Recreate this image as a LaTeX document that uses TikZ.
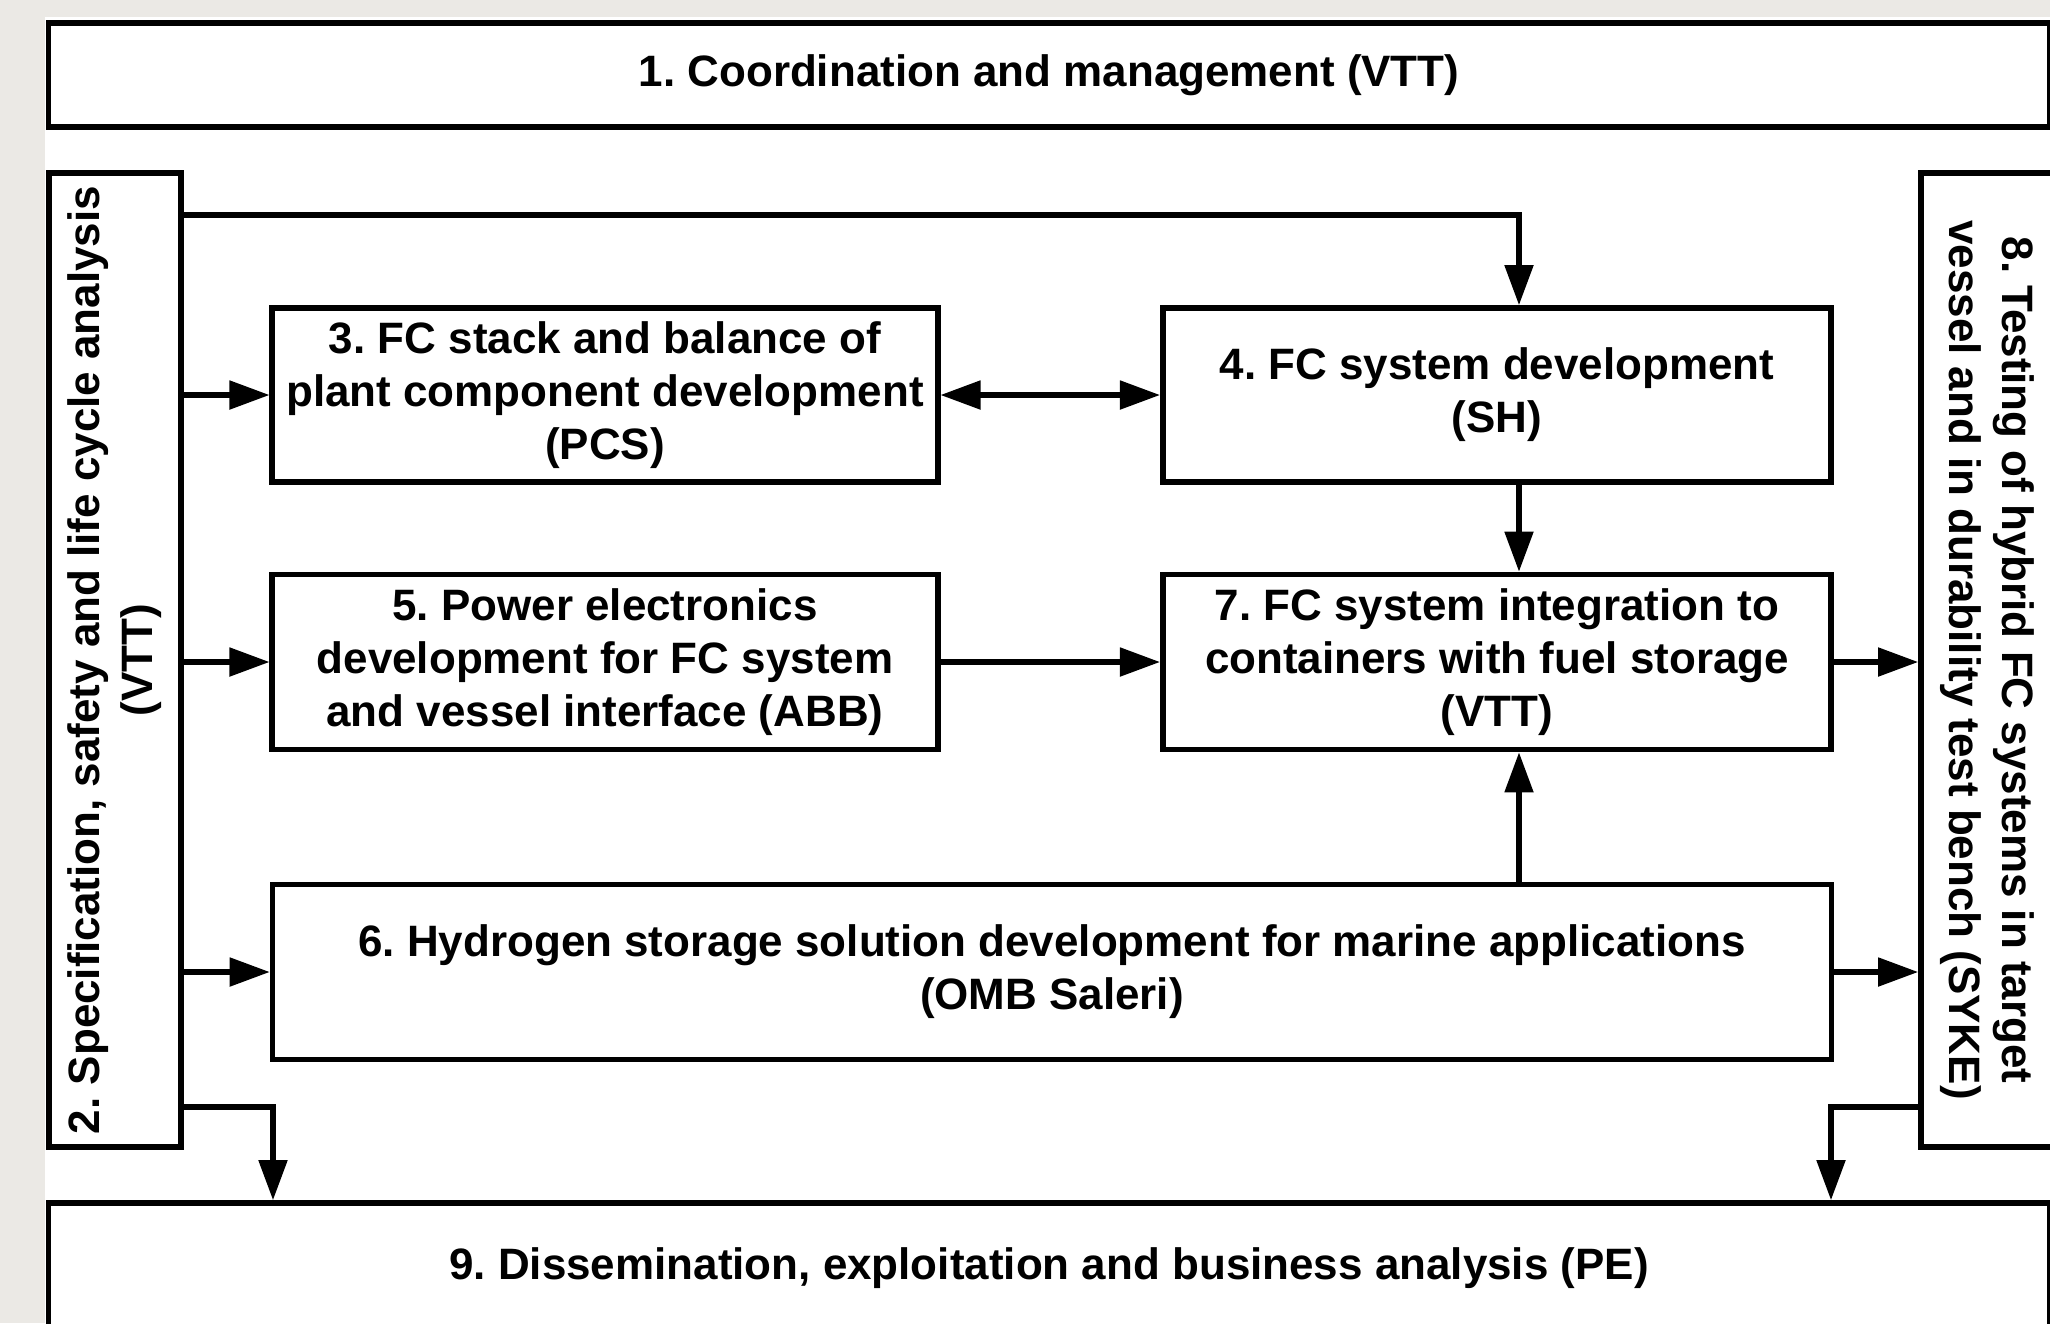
\documentclass[tikz,border=0pt]{standalone}
\usepackage{fontspec}
\setmainfont{Liberation Sans}
\usepackage{graphicx}
\usetikzlibrary{positioning,arrows.meta}
\definecolor{pagegray}{RGB}{235,233,229}
\frenchspacing
\newcommand*{\wpfont}{\fontsize{12.5}{15.1}\selectfont\bfseries}
\newcommand*{\upright}[1]{\rotatebox{90}{\begin{tabular}{@{}c@{}}#1\end{tabular}}}
\newcommand*{\downright}[1]{\rotatebox{-90}{\begin{tabular}{@{}c@{}}#1\end{tabular}}}

\begin{document}
\begin{tikzpicture}[x=0.01cm,y=-0.01cm,
  >={Triangle[length=0.4cm,width=0.28cm]},
  wp/.style={draw,line width=1.6pt,fill=white,font=\wpfont,
    align=center,inner sep=0.05cm},
  arr/.style={line width=1.45pt,->}]
% Page with grey margin on the left and at the top
\useasboundingbox (0,0) rectangle (2050,1323);
\fill[pagegray] (0,0) rectangle (2050,1323);
\fill[white] (45,17) rectangle (2050,1323);
\clip (0,0) rectangle (2050,1323);
% Work packages spanning the full width
\node[wp,minimum width=20cm,minimum height=1.04cm] (coord) at (1049,75)
  {1. Coordination and management (VTT)};
\node[wp,minimum width=20cm,minimum height=1.3cm] (dissem) at (1049,1268)
  {9. Dissemination, exploitation and business analysis (PE)};
% Side work packages with upright text
\node[wp,minimum width=1.32cm,minimum height=9.74cm] (spec) at (115,660)
  {\upright{2. Specification, safety and life cycle analysis\\(VTT)}};
\node[wp,minimum width=1.32cm,minimum height=9.74cm] (test) at (1987,660)
  {\downright{8. Testing of hybrid FC systems in target\\
    vessel and in durability test bench (SYKE)}};
% Inner work packages
\node[wp,minimum width=6.65cm,minimum height=1.74cm] (pcs) at (605,395)
  {3. FC stack and balance of\\plant component development\\(PCS)};
\node[wp,minimum width=6.68cm,minimum height=1.74cm] (sysdev) at (1497,395)
  {4. FC system development\\(SH)};
\node[wp,minimum width=6.65cm,minimum height=1.75cm] (power) at (605,662)
  {5. Power electronics\\development for FC system\\and vessel interface (ABB)};
\node[wp,minimum width=6.68cm,minimum height=1.75cm] (integ) at (1497,662)
  {7. FC system integration to\\containers with fuel storage\\(VTT)};
\node[wp,minimum width=15.58cm,minimum height=1.75cm] (storage) at (1052,972)
  {6. Hydrogen storage solution development for marine applications\\
    (OMB Saleri)};
% Bends of the connectors
\coordinate (trunk) at (1519,215);
\coordinate (drop1) at (273,1107);
\coordinate (drop2) at (1831,1107);
% Arrows out of WP2
\draw[arr] (spec.east |- trunk) -- (trunk) -- (trunk |- sysdev.north);
\draw[arr] (spec.east |- pcs.west) -- (pcs.west);
\draw[arr] (spec.east |- power.west) -- (power.west);
\draw[arr] (spec.east |- storage.west) -- (storage.west);
\draw[arr] (spec.east |- drop1) -- (drop1) -- (drop1 |- dissem.north);
% Arrows between the inner work packages
\draw[arr,<->] (pcs.east) -- (sysdev.west);
\draw[arr] (power.east) -- (integ.west);
\draw[arr] (trunk |- sysdev.south) -- (trunk |- integ.north);
\draw[arr] (trunk |- storage.north) -- (trunk |- integ.south);
% Arrows into and out of WP8
\draw[arr] (integ.east) -- (integ.east -| test.west);
\draw[arr] (storage.east) -- (storage.east -| test.west);
\draw[arr] (test.west |- drop2) -- (drop2) -- (drop2 |- dissem.north);
\end{tikzpicture}
\end{document}
